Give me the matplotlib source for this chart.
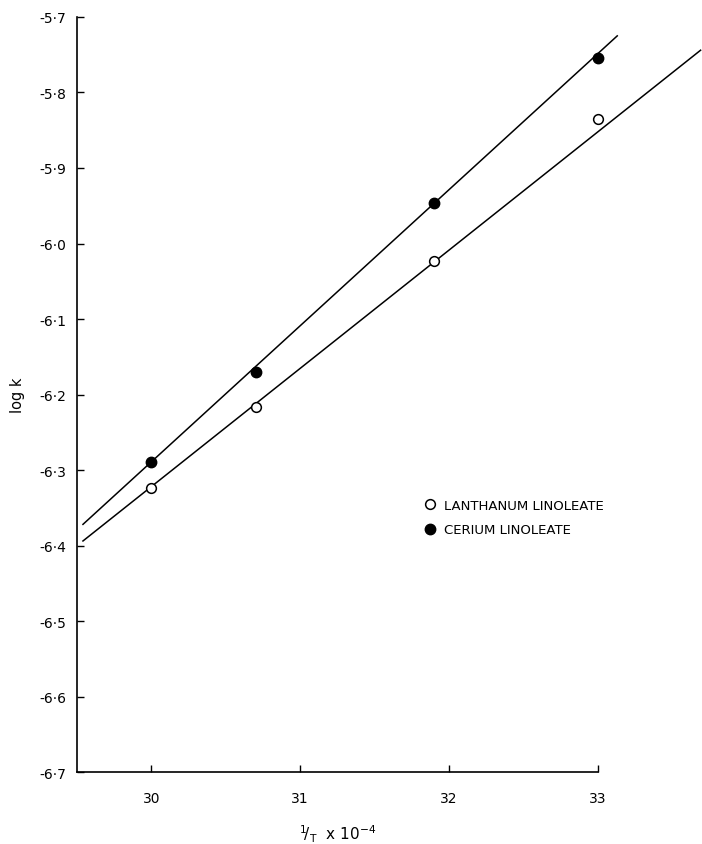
import matplotlib
matplotlib.use("Agg")
from matplotlib import pyplot as plt
from matplotlib.ticker import FuncFormatter

# measured points (1/T x 10^-4, log k)
inv_t = [30.0, 30.7, 31.9, 33.0]
logk_la = [-6.324, -6.217, -6.023, -5.835]
logk_ce = [-6.289, -6.170, -5.946, -5.754]

# hand-drawn fitted lines, endpoints
fit_la_x = [29.54, 33.69]
fit_la_y = [-6.394, -5.744]
fit_ce_x = [29.54, 33.13]
fit_ce_y = [-6.372, -5.725]

xticks = [30, 31, 32, 33]
yticks = [-5.7, -5.8, -5.9, -6.0, -6.1, -6.2, -6.3, -6.4, -6.5, -6.6, -6.7]

plt.rcParams['font.family'] = ['DejaVu Sans']
fig = plt.figure(figsize=(7.02, 8.45), dpi=100)
ax = fig.add_axes([0.1097, 0.0852, 0.742, 0.8935])

ax.plot(fit_la_x, fit_la_y, color='k', lw=1.1, clip_on=False)
ax.plot(fit_ce_x, fit_ce_y, color='k', lw=1.1, clip_on=False)
la, = ax.plot(inv_t, logk_la, 'o', mfc='white', mec='k', mew=1.1, ms=7,
              clip_on=False, zorder=3)
ce, = ax.plot(inv_t, logk_ce, 'o', mfc='k', mec='k', ms=7.5,
              clip_on=False, zorder=3)

ax.set_xlim(29.5, 33.0)
ax.set_ylim(-6.7, -5.7)
ax.set_xticks(xticks)
ax.set_yticks(yticks)
ax.yaxis.set_major_formatter(FuncFormatter(lambda v, p: "-" + f"{abs(v):.1f}".replace(".", "\u00b7")))
ax.tick_params(direction='in', length=5, width=1, labelsize=10, pad=8)
ax.tick_params(axis='x', pad=14)
ax.spines['top'].set_visible(False)
ax.spines['right'].set_visible(False)
for s in ['left', 'bottom']:
    ax.spines[s].set_linewidth(1.2)

ax.set_ylabel('log k', fontsize=10.5, labelpad=10)
ax.set_xlabel(r'$^{1}\!/_{\mathrm{T}}$  x 10$^{-4}$', fontsize=11, labelpad=12)

ax.legend([la, ce], ['LANTHANUM LINOLEATE', 'CERIUM LINOLEATE'],
          loc='center left', bbox_to_anchor=(0.643, 0.337), frameon=False,
          handlelength=1.0, handletextpad=0.55, labelspacing=0.85, fontsize=9.5)

fig.savefig("out.png", dpi=100)
